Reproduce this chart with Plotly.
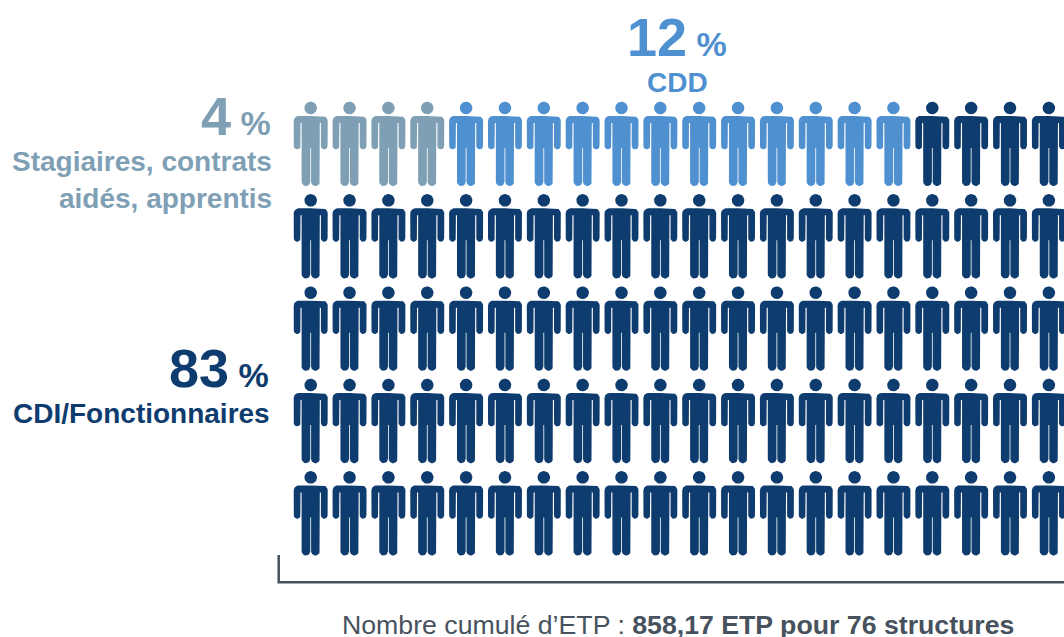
import numpy as np
import plotly.graph_objects as go

# ---- data ----
categories = ["Stagiaires, contrats aidés, apprentis", "CDD", "CDI/Fonctionnaires"]
percent_labels = [4, 12, 83]
pictogram_counts = [4, 12, 84]
colors = ["#7f9fb5", "#4f90d0", "#0e3c6e"]
n_cols = 20
footer_plain = "Nombre cumulé d’ETP : "
footer_bold = "858,17 ETP pour 76 structures"

W, H = 1064, 637
PX_COL, PX_ROW = 38.85, 92.35      # pixels per column / row
X0, Y0 = 310.7, 108.0              # pixel position of first person's head
FONT = "Liberation Sans"


def arc(cx, cy, r, a0, a1, n=10):
    t = np.radians(np.linspace(a0, a1, n))
    return list(cx + r * np.cos(t)), list(cy + r * np.sin(t))


def person_outline():
    """Right half of the pictogram in px around the head centre, mirrored."""
    xs, ys = [0.0, 12.0], [8.0, 8.0]
    for part in [
        arc(12.0, 13.0, 5.0, -90, 0),      # shoulder
        arc(13.55, 38.0, 3.35, 0, 180),    # hand
    ]:
        xs += part[0]; ys += part[1]
    xs += [10.2, 9.1, 9.1]; ys += [15.0, 15.0, 73.8]
    a = arc(4.75, 73.8, 4.35, 0, 180)      # foot
    xs += a[0]; ys += a[1]
    xs += [0.4, 0.0]; ys += [40.0, 40.0]
    xs = np.array(xs); ys = np.array(ys)
    full_x = np.concatenate([xs, -xs[::-1]])
    full_y = np.concatenate([ys, ys[::-1]])
    return full_x, full_y


BODY_X, BODY_Y = person_outline()
HEAD_X, HEAD_Y = map(np.array, arc(0, 0, 6.3, 0, 360, 28))


def persons_trace(indices, color, name):
    xs, ys = [], []
    for i in indices:
        row, col = divmod(i, n_cols)
        for gx, gy in ((BODY_X, BODY_Y), (HEAD_X, HEAD_Y)):
            xs += list(col + gx / PX_COL) + [None]
            ys += list(row + gy / PX_ROW) + [None]
    return go.Scatter(x=xs, y=ys, mode="lines", fill="toself", fillcolor=color,
                      line=dict(width=0, color=color), name=name,
                      hoverinfo="skip", showlegend=False)


fig = go.Figure()
start = 0
for cat, cnt, col in zip(categories, pictogram_counts, colors):
    fig.add_trace(persons_trace(range(start, start + cnt), col, cat))
    start += cnt


def pct(px):
    return px / W


def pcty(py):
    return 1 - py / H


def label(px, py, text, color, size, anchor="right", bold=True):
    fig.add_annotation(
        x=pct(px), y=pcty(py), xref="paper", yref="paper", text=text, showarrow=False,
        xanchor=anchor, yanchor="middle", align=anchor, borderpad=0, borderwidth=0,
        font=dict(family=FONT, size=size, color=color, weight=700 if bold else 400),
    )


def pct_label(right_px, py, value, color):
    fig.add_annotation(
        x=pct(right_px), y=pcty(py), xref="paper", yref="paper", showarrow=False,
        xanchor="right", yanchor="middle", align="right", borderpad=0, borderwidth=0,
        text=f"{value}<span style='font-size:34px'> %</span>",
        font=dict(family=FONT, size=54, color=color, weight=700),
    )


pct_label(727, 37, percent_labels[1], colors[1])
label(677, 83, categories[1], colors[1], 28, "center")
pct_label(271, 116, percent_labels[0], colors[0])
label(272, 161, "Stagiaires, contrats", colors[0], 28)
label(272, 199, "aidés, apprentis", colors[0], 28)
pct_label(269, 368, percent_labels[2], colors[2])
label(270, 413, categories[2], colors[2], 28)

fig.add_annotation(
    x=pct(678), y=pcty(625), xref="paper", yref="paper", showarrow=False,
    xanchor="center", yanchor="middle", borderpad=0, borderwidth=0,
    text=f"{footer_plain}<b>{footer_bold}</b>",
    font=dict(family=FONT, size=26.7, color="#47525e"),
)

# bracket axis
fig.add_shape(type="path", xref="paper", yref="paper",
              path=f"M {pct(278.7)} {pcty(555)} L {pct(278.7)} {pcty(582.3)} L {pct(1064)} {pcty(582.3)}",
              line=dict(color="#47525e", width=2.5))

fig.update_layout(
    width=W, height=H, margin=dict(l=0, r=0, t=0, b=0),
    paper_bgcolor="white", plot_bgcolor="white",
    xaxis=dict(visible=False, range=[-X0 / PX_COL, (W - X0) / PX_COL], fixedrange=True),
    yaxis=dict(visible=False, range=[(H - Y0) / PX_ROW, -Y0 / PX_ROW], fixedrange=True),
)
fig.write_html("out.html", config=dict(displayModeBar=False),
               post_script="document.body.style.margin='0';document.body.style.overflow='hidden';")
